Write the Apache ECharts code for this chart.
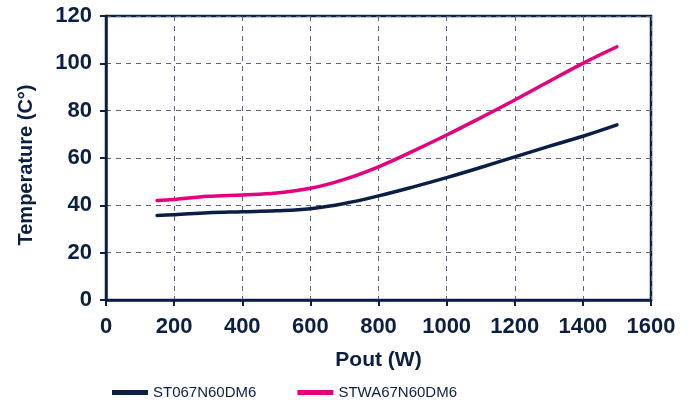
<!DOCTYPE html>
<html>
<head>
<meta charset="utf-8">
<script src="https://cdn.jsdelivr.net/npm/echarts@6/dist/echarts.min.js"></script>
<style>
  html, body { margin: 0; padding: 0; background: #fff; }
  #chart { width: 693px; height: 407px; }
</style>
</head>
<body>
<div id="chart"></div>
<script>
// Output power (W) sample points
const pout = [150, 200, 300, 400, 500, 600, 700, 800, 900, 1000, 1100, 1200, 1300, 1400, 1500];
// Case temperature (°C) for each device
const st067 = [35.7, 36.0, 36.9, 37.3, 37.7, 38.6, 40.8, 44.0, 47.7, 51.7, 56.0, 60.5, 64.9, 69.2, 74.0];
const stwa67 = [42.0, 42.5, 43.8, 44.4, 45.2, 47.2, 51.0, 56.3, 62.8, 69.7, 77.0, 84.5, 92.3, 100.0, 107.0];
const seriesNames = ['ST067N60DM6', 'STWA67N60DM6'];

const navy = '#0b1f45';
const pink = '#e6007e';
const gridDash = '#5b6180';
const font = '"Liberation Sans", Arial, sans-serif';

const pairs = arr => pout.map((x, i) => [x, arr[i]]);

const chart = echarts.init(document.getElementById('chart'), null, { renderer: 'canvas' });
chart.setOption({
  animation: false,
  backgroundColor: '#fff',
  grid: {
    left: 106, right: 42, top: 16, bottom: 107,
    show: true, borderColor: navy, borderWidth: 2.5, backgroundColor: 'transparent'
  },
  legend: {
    left: 107, top: 380,
    itemWidth: 36, itemHeight: 5, itemGap: 41,
    icon: 'rect',
    textStyle: { fontFamily: font, fontSize: 15, color: navy },
    data: seriesNames
  },
  xAxis: {
    type: 'value', min: 0, max: 1600, interval: 200,
    name: 'Pout (W)', nameLocation: 'middle', nameGap: 50,
    nameTextStyle: { fontFamily: font, fontSize: 21, fontWeight: 'bold', color: navy },
    axisLine: { show: true, lineStyle: { color: navy, width: 2.5 } },
    axisTick: { show: true, inside: false, length: 6, lineStyle: { color: navy, width: 2 } },
    axisLabel: {
      fontFamily: font, fontSize: 22, fontWeight: 'bold', color: navy, margin: 16,
      formatter: v => String(v)
    },
    splitLine: { show: true, lineStyle: { color: gridDash, type: [5, 5], width: 1 } }
  },
  yAxis: {
    type: 'value', min: 0, max: 120, interval: 20,
    name: 'Temperature (C°)', nameLocation: 'middle', nameGap: 70, nameRotate: 90,
    nameTextStyle: {
      fontFamily: font, fontSize: 20, fontWeight: 'bold', color: navy,
      padding: [0, 14, 0, 0]
    },
    axisLine: { show: true, lineStyle: { color: navy, width: 2.5 } },
    axisTick: { show: true, inside: false, length: 6, lineStyle: { color: navy, width: 2 } },
    axisLabel: {
      fontFamily: font, fontSize: 22, fontWeight: 'bold', color: navy, margin: 14,
      formatter: v => String(v)
    },
    splitLine: { show: true, lineStyle: { color: gridDash, type: [5, 5], width: 1 } }
  },
  series: [
    {
      name: seriesNames[0], type: 'line', smooth: 0.4, showSymbol: false,
      data: pairs(st067), color: navy,
      lineStyle: { color: navy, width: 3.5, cap: 'round' }
    },
    {
      name: seriesNames[1], type: 'line', smooth: 0.4, showSymbol: false,
      data: pairs(stwa67), color: pink,
      lineStyle: { color: pink, width: 3.5, cap: 'round' }
    }
  ]
});
</script>
</body>
</html>
